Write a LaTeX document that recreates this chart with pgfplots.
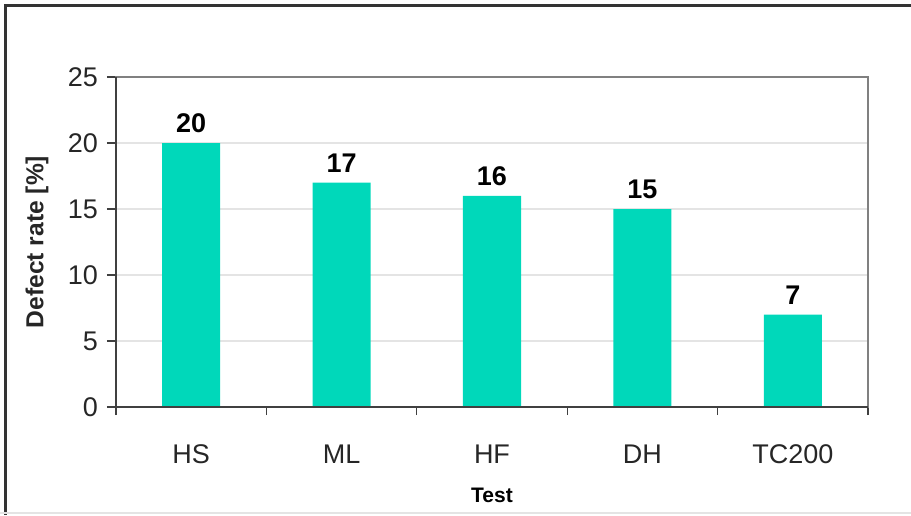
\documentclass[border=0pt]{standalone}
\usepackage{pgfplots}
\pgfplotsset{compat=1.18}
\usepackage{fontspec}
\setmainfont{Liberation Sans}
\usetikzlibrary{calc}
\definecolor{barcol}{RGB}{0,216,186}
\definecolor{gridcol}{RGB}{228,228,228}
\definecolor{boxcol}{RGB}{128,128,128}
\definecolor{axcol}{RGB}{64,64,64}
\begin{document}
\begin{tikzpicture}
\begin{axis}[
  /pgf/number format/assume math mode=true,
  scale only axis, width=376pt, height=165pt,
  ymin=0, ymax=25, ytick={0,5,10,15,20,25},
  xmin=-0.5, xmax=4.5,
  xtick={0,1,2,3,4}, xticklabels={HS,ML,HF,DH,TC200},
  major x tick style={draw=none},
  minor xtick={-0.5,0.5,1.5,2.5,3.5,4.5},
  minor x tick style={draw=axcol, line width=0.6pt},
  minor tick length=4pt,
  major tick length=4.5pt,
  tick align=outside,
  xtick pos=bottom, ytick pos=left,
  ytick style={draw=axcol, line width=0.6pt},
  ymajorgrids, grid style={gridcol, line width=0.6pt},
  axis line style={boxcol, line width=0.6pt},
  tick label style={font=\fontsize{13.5}{15}\selectfont, text=black!85},
  xticklabel style={anchor=center, yshift=-19pt},
  yticklabel style={anchor=east, xshift=-1pt},
  xlabel={Test}, ylabel={Defect rate [\%]},
  every axis x label/.style={at={(rel axis cs:0.5,0)}, yshift=-44pt, anchor=center, font=\fontsize{10.5}{12}\selectfont\bfseries},
  every axis y label/.style={at={(rel axis cs:0,0.5)}, xshift=-39.5pt, rotate=90, anchor=center, font=\fontsize{12.3}{14}\selectfont\bfseries, text=black!85},
  clip=false,
  ybar, bar width=29pt,
  nodes near coords,
  nodes near coords style={font=\fontsize{13.5}{15}\selectfont\bfseries, anchor=south, yshift=1.5pt},
]
\addplot[fill=barcol, draw=none] coordinates {(0,20) (1,17) (2,16) (3,15) (4,7)};
\draw[axcol, line width=0.7pt] (rel axis cs:0,1) -- (rel axis cs:0,0) -- (rel axis cs:1,0);
\coordinate (sw) at (rel axis cs:0,0);
\coordinate (ne) at (rel axis cs:1,1);
\end{axis}
\path[use as bounding box] ($(sw)+(-58pt,-54pt)$) rectangle ($(ne)+(21.5pt,38.5pt)$);
\draw[black!80, line width=1.6pt] ($(sw)+(-55.25pt,-54pt)$) -- ($(sw |- ne)+(-55.25pt,35.75pt)$) -- ($(ne)+(21.5pt,35.75pt)$);
\draw[gridcol, line width=0.8pt] ($(sw)+(-58pt,-53pt)$) -- ($(sw)+(455.5pt,-53pt)$);
\end{tikzpicture}
\end{document}
